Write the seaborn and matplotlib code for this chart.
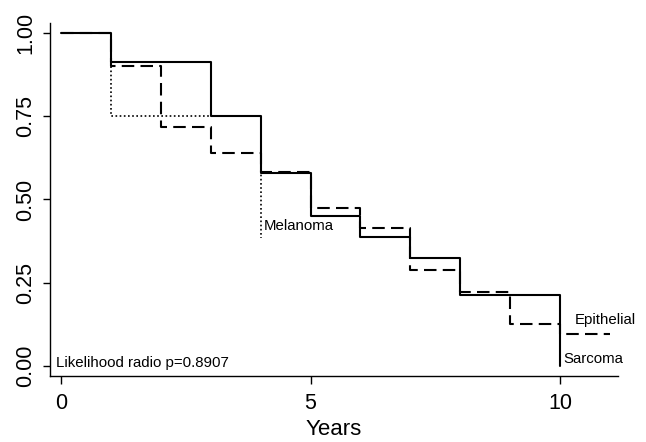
import matplotlib
matplotlib.use("Agg")
import matplotlib.pyplot as plt
import seaborn as sns
import pandas as pd

# Data
sarcoma_t = [0, 1, 3, 4, 5, 6, 7, 8, 10]
sarcoma_s = [1.0, 0.913, 0.75, 0.58, 0.45, 0.386, 0.323, 0.214, 0.0]

epithelial_t = [0, 1, 2, 3, 4, 5, 6, 7, 8, 9, 10, 11]
epithelial_s = [1.0, 0.90, 0.719, 0.640, 0.583, 0.473, 0.415, 0.288, 0.223, 0.126, 0.096, 0.096]

melanoma_t = [0, 1, 4]
melanoma_s = [1.0, 0.75, 0.385]

x_ticks = [0, 5, 10]
y_ticks = [0.0, 0.25, 0.5, 0.75, 1.0]
y_ticklabels = ["0.00", "0.25", "0.50", "0.75", "1.00"]

sns.set_style("ticks")
plt.rcParams["font.family"] = ["Liberation Sans", "DejaVu Sans"]
plt.rcParams["text.color"] = "black"
plt.rcParams["xtick.color"] = "black"
plt.rcParams["ytick.color"] = "black"
plt.rcParams["axes.labelcolor"] = "black"

fig = plt.figure(figsize=(6.46, 4.42), dpi=100)
ax = fig.add_axes([0.0774, 0.1493, 0.8793, 0.7987])

df_s = pd.DataFrame({"t": sarcoma_t, "s": sarcoma_s})
df_e = pd.DataFrame({"t": epithelial_t, "s": epithelial_s})
df_m = pd.DataFrame({"t": melanoma_t, "s": melanoma_s})

sns.lineplot(data=df_m, x="t", y="s", ax=ax, color="black", lw=1.2,
             drawstyle="steps-post", linestyle=(0, (1, 1.5)), estimator=None)
sns.lineplot(data=df_e, x="t", y="s", ax=ax, color="black", lw=1.5,
             drawstyle="steps-post", linestyle=(0, (6, 3)), estimator=None)
sns.lineplot(data=df_s, x="t", y="s", ax=ax, color="black", lw=1.5,
             drawstyle="steps-post", linestyle="-", estimator=None)

ax.set_xlim(-0.22, 11.16)
ax.set_ylim(-0.03, 1.03)
ax.set_xticks(x_ticks)
ax.set_xticklabels([str(v) for v in x_ticks], fontsize=15.5)
ax.set_yticks(y_ticks)
ax.set_yticklabels(y_ticklabels, fontsize=15.5, rotation=90, va="center")
ax.tick_params(axis="y", length=5, width=1, pad=5)
ax.tick_params(axis="x", length=6, width=1, pad=6)
ax.set_xlabel("Years", fontsize=16, labelpad=3.5)
ax.set_ylabel("")
for sp in ["left", "bottom"]:
    ax.spines[sp].set_linewidth(1.0)
    ax.spines[sp].set_color("black")
sns.despine(ax=ax)

ax.text(4.06, 0.42, "Melanoma", fontsize=10.8, va="center", ha="left")
ax.text(10.3, 0.138, "Epithelial", fontsize=10.8, va="center", ha="left")
ax.text(10.06, 0.021, "Sarcoma", fontsize=10.8, va="center", ha="left")
ax.text(-0.1, 0.009, "Likelihood radio p=0.8907", fontsize=10.8, va="center", ha="left")

fig.savefig("out.png", dpi=100)
